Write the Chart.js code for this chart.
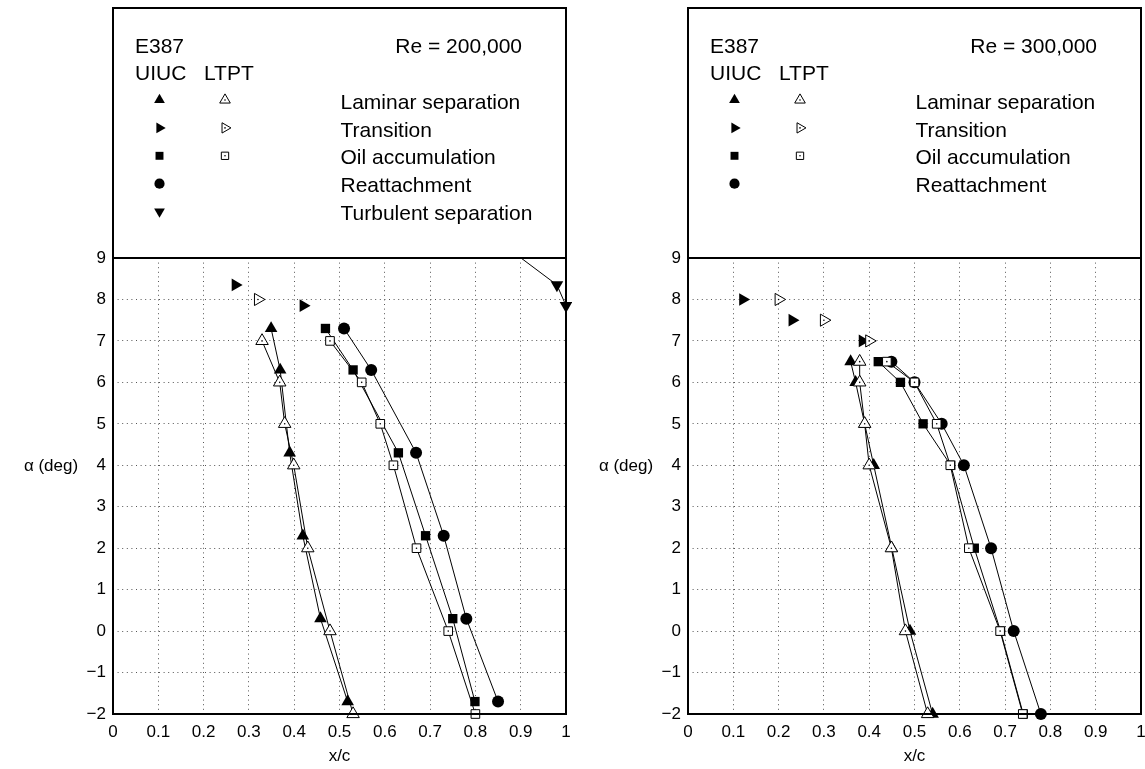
<!DOCTYPE html>
<html>
<head>
<meta charset="utf-8">
<script src="https://cdn.jsdelivr.net/npm/chart.js@4.4.0/dist/chart.umd.min.js"></script>
<style>
  html, body { margin: 0; padding: 0; background: #fff; }
  #wrap { position: relative; width: 1145px; height: 769px; }
  #c200 { position: absolute; left: 0; top: 0; }
  #c300 { position: absolute; left: 572px; top: 0; }
</style>
</head>
<body>
<div id="wrap">
  <canvas id="c200" width="572" height="769"></canvas>
  <canvas id="c300" width="573" height="769"></canvas>
</div>
<script>
// axis ticks
var xTicks = [0, 0.1, 0.2, 0.3, 0.4, 0.5, 0.6, 0.7, 0.8, 0.9, 1];
var yTicks = [-2, -1, 0, 1, 2, 3, 4, 5, 6, 7, 8, 9];
var legendLabels = ['Laminar separation', 'Transition', 'Oil accumulation', 'Reattachment', 'Turbulent separation'];

// Re = 200,000  (x/c against alpha)
var alpha200 = [-1.7, 0.3, 2.3, 4.3, 6.3, 7.3];          // UIUC
var alpha200ltpt = [-2, 0, 2, 4, 5, 6, 7];               // LTPT
var lamSep200 = [0.518, 0.458, 0.419, 0.39, 0.369, 0.349];
var lamSep200ltpt = [0.53, 0.479, 0.43, 0.399, 0.379, 0.368, 0.329];
var oil200 = [0.799, 0.75, 0.69, 0.63, 0.53, 0.469];
var oil200ltpt = [0.8, 0.74, 0.67, 0.619, 0.59, 0.549, 0.479];
var reatt200 = [0.85, 0.78, 0.73, 0.669, 0.57, 0.51];
var trans200alpha = [8.35, 7.85];
var trans200 = [0.27, 0.42];
var trans200ltptAlpha = [8];
var trans200ltpt = [0.32];
var turb200alpha = [7.85, 8.35, 9.35];
var turb200 = [1.0, 0.98, 0.858];

// Re = 300,000
var alpha300 = [-2, 0, 2, 4, 5, 6, 6.5];
var lamSep300 = [0.54, 0.49, 0.45, 0.41, 0.39, 0.37, 0.359];
var lamSep300ltpt = [0.529, 0.48, 0.449, 0.40, 0.39, 0.379, 0.379];
var oil300 = [0.74, 0.69, 0.632, 0.58, 0.519, 0.469, 0.42];
var oil300ltpt = [0.739, 0.689, 0.62, 0.579, 0.549, 0.5, 0.439];
var reatt300 = [0.779, 0.719, 0.669, 0.609, 0.56, 0.50, 0.449];
var trans300alpha = [8, 7.5, 7];
var trans300 = [0.121, 0.23, 0.385];
var trans300ltpt = [0.2, 0.3, 0.4];

var FONT = '"Liberation Sans", Arial, Helvetica, sans-serif';
Chart.defaults.font.family = FONT;
Chart.defaults.color = '#000';

// marker shapes, filled = UIUC, open with a dot = LTPT
var styles = {
  lam:   {pointStyle: 'triangle', rotation: 0,   radius: 7.3, openRadius: 7.2},
  trans: {pointStyle: 'triangle', rotation: 90,  radius: 7.3, openRadius: 7.0},
  oil:   {pointStyle: 'rect',     rotation: 0,   radius: 6.6, openRadius: 6.1},
  reatt: {pointStyle: 'circle',   rotation: 0,   radius: 6.0, openRadius: 6.0},
  turb:  {pointStyle: 'triangle', rotation: 180, radius: 7.3, openRadius: 7.2}
};

function series(xs, ys, key, open, joined) {
  var st = styles[key];
  return {
    data: xs.map(function (x, i) { return {x: x, y: ys[i]}; }),
    showLine: joined,
    borderColor: '#000',
    borderWidth: 1,
    pointStyle: st.pointStyle,
    pointRotation: st.rotation,
    pointRadius: open ? st.openRadius : st.radius,
    pointBackgroundColor: open ? '#fff' : '#000',
    pointBorderColor: '#000',
    pointBorderWidth: open ? 1 : 0,
    centerDot: open,
    clip: {left: 15, right: 15, top: 0, bottom: 15}
  };
}

function drawMark(ctx, key, open, x, y, scale) {
  var st = styles[key];
  var r = (open ? st.openRadius : st.radius) * scale;
  ctx.save();
  ctx.fillStyle = open ? '#fff' : '#000';
  ctx.strokeStyle = '#000';
  ctx.lineWidth = 1;
  Chart.helpers.drawPoint(ctx, {pointStyle: st.pointStyle, rotation: st.rotation, radius: r, borderWidth: open ? 1 : 0}, x, y);
  if (open) {
    ctx.fillStyle = '#000';
    ctx.beginPath(); ctx.arc(x, y, 0.8, 0, Math.PI * 2); ctx.fill();
  }
  ctx.restore();
}

var framePlugin = {
  id: 'frameLegend',
  afterDatasetDraw: function (chart, args) {
    var ds = chart.data.datasets[args.index];
    if (!ds.centerDot) return;
    var ctx = chart.ctx, a = chart.chartArea;
    ctx.save();
    ctx.fillStyle = '#000';
    args.meta.data.forEach(function (pt) {
      if (pt.y < a.top) return;
      ctx.beginPath(); ctx.arc(pt.x, pt.y, 0.8, 0, Math.PI * 2); ctx.fill();
    });
    ctx.restore();
  },
  afterDraw: function (chart, args, opts) {
    var ctx = chart.ctx, a = chart.chartArea;
    var L = a.left, R = a.right, T = a.top, B = a.bottom, boxTop = 8;
    ctx.save();
    // frame around legend box and plot
    ctx.strokeStyle = '#000';
    ctx.lineWidth = 2;
    ctx.strokeRect(L, boxTop, R - L, B - boxTop);
    ctx.beginPath(); ctx.moveTo(L, T); ctx.lineTo(R, T); ctx.stroke();

    // y axis title, written horizontally
    ctx.fillStyle = '#000';
    ctx.font = '17px ' + FONT;
    ctx.textAlign = 'center';
    ctx.textBaseline = 'middle';
    ctx.fillText('\u03b1 (deg)', L - 62, chart.scales.y.getPixelForValue(4) + 1);

    // legend
    ctx.font = '21px ' + FONT;
    ctx.textBaseline = 'alphabetic';
    ctx.textAlign = 'left';
    ctx.fillText('E387', L + 22, 53);
    ctx.fillText('UIUC', L + 22, 80);
    ctx.fillText('LTPT', L + 91, 80);
    ctx.textAlign = 'right';
    ctx.fillText(opts.re, R - 44, 53);
    ctx.textAlign = 'left';
    opts.rows.forEach(function (row, i) {
      var cy = 100 + i * 27.9;
      if (row.uiuc) drawMark(ctx, row.key, false, L + 46.5, cy, 0.85);
      if (row.ltpt) drawMark(ctx, row.key, true, L + 112, cy, 0.85);
      ctx.fillStyle = '#000';
      ctx.fillText(legendLabels[i], L + 227.5, cy + 8.6);
    });
    ctx.restore();
  }
};

function fmtX(v) { return String(+v.toFixed(1)); }
function fmtY(v) { return v < 0 ? '\u2212' + (-v) : String(v); }

function makeChart(id, yWidth, padRight, datasets, legend) {
  return new Chart(document.getElementById(id), {
    type: 'scatter',
    data: {datasets: datasets},
    options: {
      responsive: false,
      animation: false,
      devicePixelRatio: 1,
      events: [],
      layout: {autoPadding: false, padding: {top: 258, right: padRight, bottom: 0, left: 0}},
      plugins: {
        legend: {display: false},
        tooltip: {enabled: false},
        frameLegend: legend
      },
      scales: {
        x: {
          type: 'linear', min: 0, max: 1,
          afterBuildTicks: function (s) { s.ticks = xTicks.map(function (v) { return {value: v}; }); },
          afterFit: function (s) { s.height = 55; s.paddingLeft = 0; s.paddingRight = 0; },
          grid: {color: '#555', lineWidth: 1, drawTicks: false},
          border: {display: false, dash: [1, 3.6]},
          ticks: {padding: 8, maxRotation: 0, autoSkip: false, font: {size: 17}, callback: fmtX},
          title: {display: true, text: 'x/c', font: {size: 17}, padding: {top: 0, bottom: 2}}
        },
        y: {
          type: 'linear', min: -2, max: 9,
          afterBuildTicks: function (s) { s.ticks = yTicks.map(function (v) { return {value: v}; }); },
          afterFit: function (s) { s.width = yWidth; s.paddingTop = 0; s.paddingBottom = 0; },
          grid: {color: '#555', lineWidth: 1, drawTicks: false},
          border: {display: false, dash: [1, 3.6]},
          ticks: {padding: 7, autoSkip: false, font: {size: 17}, callback: fmtY}
        }
      }
    },
    plugins: [framePlugin]
  });
}

// LTPT sets go first so they sit on top of the UIUC markers
makeChart('c200', 113, 6, [
  series(lamSep200ltpt, alpha200ltpt, 'lam', true, true),
  series(oil200ltpt, alpha200ltpt, 'oil', true, true),
  series(trans200ltpt, trans200ltptAlpha, 'trans', true, false),
  series(lamSep200, alpha200, 'lam', false, true),
  series(oil200, alpha200, 'oil', false, true),
  series(reatt200, alpha200, 'reatt', false, true),
  series(trans200, trans200alpha, 'trans', false, false),
  series(turb200, turb200alpha, 'turb', false, true)
], {
  re: 'Re = 200,000',
  rows: [
    {key: 'lam', uiuc: true, ltpt: true},
    {key: 'trans', uiuc: true, ltpt: true},
    {key: 'oil', uiuc: true, ltpt: true},
    {key: 'reatt', uiuc: true, ltpt: false},
    {key: 'turb', uiuc: true, ltpt: false}
  ]
});

makeChart('c300', 116, 4, [
  series(lamSep300ltpt, alpha300, 'lam', true, true),
  series(oil300ltpt, alpha300, 'oil', true, true),
  series(trans300ltpt, trans300alpha, 'trans', true, false),
  series(lamSep300, alpha300, 'lam', false, true),
  series(oil300, alpha300, 'oil', false, true),
  series(reatt300, alpha300, 'reatt', false, true),
  series(trans300, trans300alpha, 'trans', false, false)
], {
  re: 'Re = 300,000',
  rows: [
    {key: 'lam', uiuc: true, ltpt: true},
    {key: 'trans', uiuc: true, ltpt: true},
    {key: 'oil', uiuc: true, ltpt: true},
    {key: 'reatt', uiuc: true, ltpt: false}
  ]
});
</script>
</body>
</html>
